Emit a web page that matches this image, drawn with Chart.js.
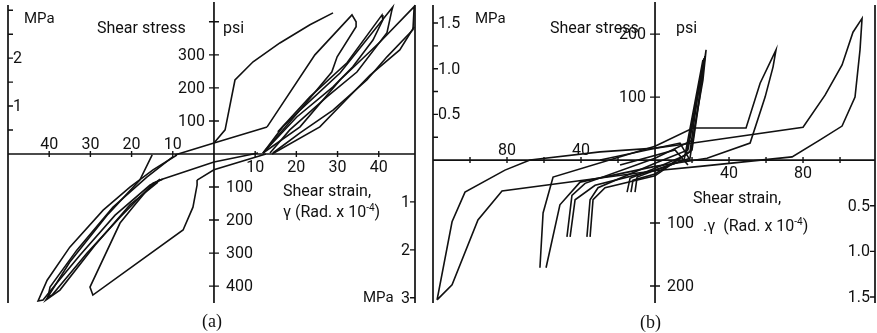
<!DOCTYPE html>
<html>
<head>
<meta charset="utf-8">
<script src="https://cdn.jsdelivr.net/npm/chart.js@4.4.0/dist/chart.umd.min.js"></script>
<style>
  body { margin: 0; background: #fff; }
  #page { position: relative; width: 877px; height: 333px; overflow: hidden; background: #fff; }
  canvas { position: absolute; top: 0; }
  .t { position: absolute; font: 16px Roboto, sans-serif; line-height: 16px; color: #111; white-space: nowrap; }
  .t sup { font-size: 10px; vertical-align: 6px; line-height: 0; }
  .cap { position: absolute; font: 18px "Liberation Serif", serif; line-height: 18px; color: #111; }
</style>
</head>
<body>
<div id="page">
  <canvas id="panelA" width="430" height="312" style="left:0"></canvas>
  <canvas id="panelB" width="452" height="312" style="left:425px"></canvas>

  <div class="t" style="left:24px;top:10px;font-size:15px">MPa</div>
  <div class="t" style="left:97px;top:20px">Shear stress</div>
  <div class="t" style="left:223px;top:20px">psi</div>
  <div class="t" style="left:283px;top:183px">Shear strain,</div>
  <div class="t" style="left:283px;top:204px">γ (Rad. x 10<sup>-4</sup>)</div>
  <div class="t" style="left:363px;top:289px;font-size:15px">MPa</div>
  <div class="cap" style="left:202px;top:312px">(a)</div>

  <div class="t" style="left:475px;top:10px;font-size:15px">MPa</div>
  <div class="t" style="left:550px;top:20px">Shear stress</div>
  <div class="t" style="left:676px;top:20px">psi</div>
  <div class="t" style="left:693px;top:190px">Shear strain,</div>
  <div class="t" style="left:703px;top:218px">.γ&nbsp;&nbsp;(Rad. x 10<sup>-4</sup>)</div>
  <div class="cap" style="left:640px;top:313px">(b)</div>
</div>

<script>
// Shear stress (psi) vs shear strain (rad x 1e-4) hysteresis loops

const PSI_PER_MPA = 145.04;

// ---- panel (a) ----
const aVirginStrain = [0, 2.7, 5.1, 9.5, 16.0, 23.3, 28.9];
const aVirginPsi    = [33, 73, 224, 279, 336, 391, 427];
const aReloadStrain = [-9.5, 0, 12.9];
const aReloadPsi    = [-3, 33, 82];
const aLoop2Strain  = [12.9, 24.5, 33.5, 34.5, 34.5, 29.9, 28.6, 20.9, 16.7, 11.9];
const aLoop2Psi     = [82, 300, 421, 400, 385, 294, 248, 133, 82, 3];
const aLoop3Strain  = [15.5, 23.3, 32.3, 40.8, 41.0, 38.6, 33.7, 28.9, 20.1, 11.9];
const aLoop3Psi     = [67, 173, 276, 421, 406, 345, 264, 203, 112, 3];
const aLoop4Strain  = [11.9, 20.9, 30.6, 43.4, 43.2, 42.0, 34.7, 27.4, 18.4, 13.6];
const aLoop4Psi     = [3, 133, 245, 445, 436, 367, 248, 173, 73, 3];
const aLoop5Strain  = [11.9, 20.9, 30.6, 40.3, 48.6, 48.3, 42.0, 37.1, 28.9, 20.9, 14.3];
const aLoop5Psi     = [3, 82, 224, 339, 446, 376, 294, 224, 133, 64, 3];
const aOuterStrain  = [14.1, 25.7, 37.9, 45.1, 48.6];
const aOuterPsi     = [0, 82, 239, 315, 385];
const aDown1Strain  = [10.7, 0, -12.4];
const aDown1Psi     = [3, -24, -76];
const aDown2Strain  = [12.6, 0, -4.1];
const aDown2Psi     = [0, -48, -79];
const aWideStrain   = [-4.1, -4.1, -5.1, -7.5, -29.4, -30.1, -22.8, -19.7, -14.8, -12.4];
const aWidePsi      = [-79, -94, -161, -230, -427, -403, -209, -161, -88, -76];
const aNeg1Strain   = [-9.0, -14.8, -20.4, -26.9, -35.0, -40.5, -42.7, -41.5, -38.6, -32.5, -24.0, -15.5, -12.4];
const aNeg1Psi      = [-3, -48, -100, -170, -282, -382, -445, -442, -397, -306, -185, -94, -76];
const aNeg2Strain   = [-10.0, -16.3, -24.5, -33.3, -39.8, -40.3, -39.3, -30.8, -22.8, -16.3, -13.1];
const aNeg2Psi      = [-9, -70, -161, -291, -403, -433, -427, -300, -191, -109, -76];
const aNeg3Strain   = [-15.0, -18.0, -25.7, -35.0, -40.8, -37.4, -28.9, -20.4, -13.6];
const aNeg3Psi      = [-3, -79, -182, -327, -442, -412, -276, -154, -85];

const aStrainTicks  = [-40, -30, -20, -10, 10, 20, 30, 40];
const aStrainLabels = [-40, -30, -20, -10, 10, 20, 30, 40];
const aPsiTicks     = [-400, -300, -200, -100, 100, 200, 300, 400];
const aPsiLabels    = [100, 200, 300, -100, -200, -300, -400];
const aMpaLeftTicks = [0.5, 1, 1.5, 2, 2.5, 3];
const aMpaLeftLabels  = [1, 2];
const aMpaRightTicks  = [-1, -2, -3];
const aMpaRightLabels = [-1, -2, -3];

// ---- panel (b) ----
const bLoop1Strain = [-117.8, -109.7, -102.7, -81.1, -67.6, -29.7, 0, 20.5, 80.0, 91.9, 101.1, 107.0, 111.9, 110.8, 108.1, 101.1, 89.2, 74.1, 24.3, 0, -82.7, -95.7, -109.7, -117.8];
const bLoop1Psi    = [-222, -98, -51, -16, 0, 13, 19, 27, 52, 103, 151, 203, 225, 175, 100, 54, 32, 5, -10, -17, -49, -95, -198, -222];
const bLoop2Strain = [-62.2, -60.5, -55.1, 0, 20.5, 49.2, 56.8, 65.4, 63.8, 59.5, 51.4, 28.1, 0, -40.5, -51.4, -58.9];
const bLoop2Psi    = [-171, -84, -27, 22, 51, 51, 122, 175, 148, 100, 27, 3, -10, -35, -71, -171];
const bLoop3Strain = [-47.6, -44.9, -37.8, 0, 20.5, 27.6, 25.9, 21.6, 18.9, 0, -32.4, -43.2, -45.9];
const bLoop3Psi    = [-122, -56, -37, 3, 32, 175, 127, 56, 3, -16, -40, -63, -122];
const bLoop4Strain = [-36.8, -35.1, -30.8, 0, 17.8, 27.0, 24.3, 20.0, 0, -27.0, -33.5, -35.1];
const bLoop4Psi    = [-122, -63, -44, -5, 16, 165, 103, 16, -25, -44, -63, -122];
const bLoop5Strain = [-15.1, -13.5, 0, 16.8, 26.5, 22.7, 18.9, 0, -11.9, -13.0];
const bLoop5Psi    = [-51, -29, -13, 8, 162, 95, 13, -22, -32, -51];
const bLoop6Strain = [-10.8, -9.7, 0, 15.7, 25.9];
const bLoop6Psi    = [-51, -27, -16, 0, 159];
const bKnot1Strain = [-29.7, 13.5, 18.9];
const bKnot1Psi    = [0, 27, 0];
const bKnot2Strain = [-18.9, 10.8, 17.8];
const bKnot2Psi    = [-8, 16, -8];

const bStrainTicks  = [-100, -80, -60, -40, -20, 20, 40, 60, 80, 100];
const bStrainLabels = [-80, -40, 40, 80];
const bPsiTicks     = [-200, -100, 100, 200];
const bPsiLabels    = [100, 200, -100, -200];
const bMpaLeftTicks = [0.25, 0.5, 0.75, 1, 1.25, 1.5];
const bMpaLeftLabels  = [0.5, 1, 1.5];
const bMpaRightTicks  = [-0.5, -1, -1.5];
const bMpaRightLabels = [-0.5, -1, -1.5];

const INK = '#111';

function series(strain, psi) {
    return {
        data: strain.map((s, i) => ({ x: s, y: psi[i] })),
        showLine: true,
        pointRadius: 0,
        borderColor: INK,
        borderWidth: 1.6,
        tension: 0,
        fill: false
    };
}

// Draws the frame, the axes crossing at the origin, ticks and tick labels
function crossAxes(spec) {
    return {
        id: 'crossAxes',
        afterDatasetsDraw(chart) {
            const { ctx, chartArea: a, scales: { x, y } } = chart;
            const x0 = x.getPixelForValue(0);
            const y0 = y.getPixelForValue(0);
            const mpaY = v => y.getPixelForValue(v * PSI_PER_MPA);

            ctx.save();
            ctx.strokeStyle = INK;
            ctx.fillStyle = INK;
            ctx.lineWidth = 1.7;
            ctx.beginPath();
            ctx.moveTo(a.left, a.top + 3); ctx.lineTo(a.left, a.bottom);
            ctx.moveTo(a.right, a.top + 3); ctx.lineTo(a.right, a.bottom);
            ctx.moveTo(x0, a.top); ctx.lineTo(x0, a.bottom);
            ctx.moveTo(a.left, y0); ctx.lineTo(a.right, y0);
            ctx.stroke();

            ctx.lineWidth = 1.4;
            ctx.beginPath();
            spec.strainTicks.forEach(v => {
                const px = x.getPixelForValue(v);
                ctx.moveTo(px, y0 - 3); ctx.lineTo(px, y0 + 3);
            });
            spec.psiTicks.forEach(v => {
                const py = y.getPixelForValue(v);
                ctx.moveTo(x0 - 5, py); ctx.lineTo(x0 + 5, py);
            });
            spec.mpaLeftTicks.forEach(v => {
                ctx.moveTo(a.left, mpaY(v)); ctx.lineTo(a.left + 5, mpaY(v));
            });
            spec.mpaRightTicks.forEach(v => {
                ctx.moveTo(a.right, mpaY(v)); ctx.lineTo(a.right - 5, mpaY(v));
            });
            ctx.stroke();

            ctx.font = '16px Roboto, sans-serif';
            ctx.textBaseline = 'middle';

            // strain labels: negative side above the axis, positive side below
            ctx.textAlign = 'center';
            spec.strainLabels.forEach(v => {
                const px = x.getPixelForValue(v);
                ctx.fillText(String(Math.abs(v)), px, v < 0 ? y0 - 9 : y0 + 14);
            });

            // psi labels: upper half left of the axis, lower half right of it
            spec.psiLabels.forEach(v => {
                const py = y.getPixelForValue(v) + 1;
                ctx.textAlign = v > 0 ? 'right' : 'left';
                ctx.fillText(String(Math.abs(v)), v > 0 ? x0 - 9 : x0 + 12, py);
            });

            const fmt = v => spec.mpaDecimals ? Math.abs(v).toFixed(1) : String(Math.abs(v));
            ctx.textAlign = 'left';
            spec.mpaLeftLabels.forEach(v => ctx.fillText(fmt(v), a.left + 5, mpaY(v) + 1));
            ctx.textAlign = 'right';
            spec.mpaRightLabels.forEach(v => ctx.fillText(fmt(v), a.right - 5, mpaY(v) + 1));
            ctx.restore();
        }
    };
}

function buildPanel(id, datasets, range, pad, spec) {
    return new Chart(document.getElementById(id), {
        type: 'scatter',
        data: { datasets },
        options: {
            responsive: false,
            animation: false,
            events: [],
            layout: { padding: pad },
            plugins: { legend: { display: false }, tooltip: { enabled: false } },
            scales: {
                x: { type: 'linear', min: range.xMin, max: range.xMax, display: false },
                y: { type: 'linear', min: range.yMin, max: range.yMax, display: false }
            }
        },
        plugins: [crossAxes(spec)]
    });
}

buildPanel('panelA', [
    series(aVirginStrain, aVirginPsi),
    series(aReloadStrain, aReloadPsi),
    series(aLoop2Strain, aLoop2Psi),
    series(aLoop3Strain, aLoop3Psi),
    series(aLoop4Strain, aLoop4Psi),
    series(aLoop5Strain, aLoop5Psi),
    series(aOuterStrain, aOuterPsi),
    series(aDown1Strain, aDown1Psi),
    series(aDown2Strain, aDown2Psi),
    series(aWideStrain, aWidePsi),
    series(aNeg1Strain, aNeg1Psi),
    series(aNeg2Strain, aNeg2Psi),
    series(aNeg3Strain, aNeg3Psi)
], { xMin: -50, xMax: 48.8, yMin: -451, yMax: 460 },
   { left: 8, right: 15, top: 2, bottom: 9 },
   {
       strainTicks: aStrainTicks, strainLabels: aStrainLabels,
       psiTicks: aPsiTicks, psiLabels: aPsiLabels,
       mpaLeftTicks: aMpaLeftTicks, mpaLeftLabels: aMpaLeftLabels,
       mpaRightTicks: aMpaRightTicks, mpaRightLabels: aMpaRightLabels,
       mpaDecimals: false
   });

buildPanel('panelB', [
    series(bLoop1Strain, bLoop1Psi),
    series(bLoop2Strain, bLoop2Psi),
    series(bLoop3Strain, bLoop3Psi),
    series(bLoop4Strain, bLoop4Psi),
    series(bLoop5Strain, bLoop5Psi),
    series(bLoop6Strain, bLoop6Psi),
    series(bKnot1Strain, bKnot1Psi),
    series(bKnot2Strain, bKnot2Psi)
], { xMin: -120, xMax: 118.9, yMin: -227, yMax: 251 },
   { left: 8, right: 2, top: 2, bottom: 9 },
   {
       strainTicks: bStrainTicks, strainLabels: bStrainLabels,
       psiTicks: bPsiTicks, psiLabels: bPsiLabels,
       mpaLeftTicks: bMpaLeftTicks, mpaLeftLabels: bMpaLeftLabels,
       mpaRightTicks: bMpaRightTicks, mpaRightLabels: bMpaRightLabels,
       mpaDecimals: true
   });
</script>
</body>
</html>
